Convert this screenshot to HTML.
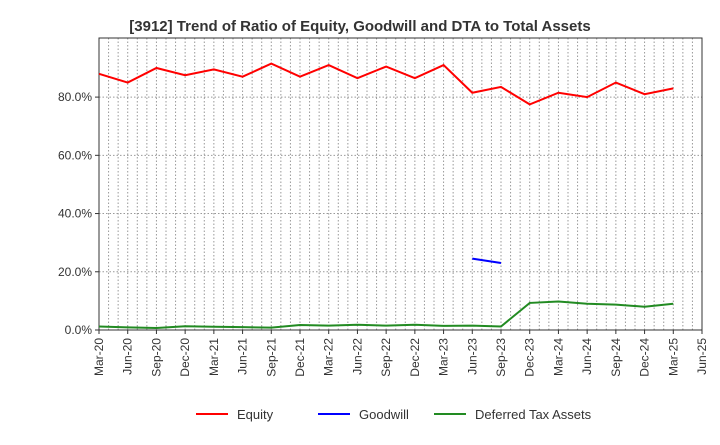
<!DOCTYPE html>
<html><head><meta charset="utf-8"><style>body{margin:0;background:#fff}svg{font-family:"Liberation Sans",sans-serif}</style></head>
<body>
<svg width="720" height="440">
<text x="360" y="31" text-anchor="middle" font-size="15" font-weight="bold" fill="#333">[3912]  Trend of Ratio of Equity, Goodwill and DTA to Total Assets</text>
<g id="grid"></g><g id="axes"></g><g id="series"></g>
<g>
<line x1="196" y1="414" x2="228" y2="414" stroke="#f00" stroke-width="2"/><text x="237" y="419" font-size="13" fill="#333">Equity</text>
<line x1="318" y1="414" x2="350" y2="414" stroke="#00f" stroke-width="2"/><text x="359" y="419" font-size="13" fill="#333">Goodwill</text>
<line x1="434" y1="414" x2="466" y2="414" stroke="#228b22" stroke-width="2"/><text x="475" y="419" font-size="13" fill="#333">Deferred Tax Assets</text>
</g>
</svg>
<script>
const categories=["Mar-20","Jun-20","Sep-20","Dec-20","Mar-21","Jun-21","Sep-21","Dec-21","Mar-22","Jun-22","Sep-22","Dec-22","Mar-23","Jun-23","Sep-23","Dec-23","Mar-24","Jun-24","Sep-24","Dec-24","Mar-25","Jun-25"];
const equity=[88,85,90,87.5,89.5,87,91.5,87,91,86.5,90.5,86.5,91,81.5,83.5,77.5,81.5,80,85,81,83,null];
const goodwill=[null,null,null,null,null,null,null,null,null,null,null,null,null,24.5,23,null,null,null,null,null,null,null];
const dta=[1.2,0.9,0.7,1.3,1.1,1.0,0.8,1.7,1.5,1.8,1.5,1.8,1.4,1.5,1.2,9.3,9.8,9.0,8.7,8.0,9.0,null];
const yTicks=[0,20,40,60,80];
const L=99,R=702,T=38,B=330;
const x=i=>L+i*(R-L)/(categories.length-1);
const y=v=>B-v*(B-T)/100.3;
const ns="http://www.w3.org/2000/svg";
function mk(p,t,a){const e=document.createElementNS(ns,t);for(const k in a)e.setAttribute(k,a[k]);p.appendChild(e);return e;}
const grid=document.getElementById('grid'),axes=document.getElementById('axes'),ser=document.getElementById('series');
for(let m=1;m<(categories.length-1)*3;m++){const xx=L+m*(R-L)/((categories.length-1)*3);
const l=mk(grid,'line',{x1:xx,x2:xx,y1:T,y2:B,stroke:'#999','stroke-dasharray':'1.5,2','stroke-width':1});
}
yTicks.forEach(v=>{if(v>0){const l=mk(grid,'line',{x1:L,x2:R,y1:y(v),y2:y(v),stroke:'#999','stroke-dasharray':'1.5,2'});
}
const t=mk(axes,'text',{x:L-7,y:y(v)+4,'text-anchor':'end','font-size':12,fill:'#333'});t.textContent=v.toFixed(1)+'%';

mk(axes,'line',{x1:L-4,x2:L,y1:y(v),y2:y(v),stroke:'#333'});});
const fr=mk(axes,'rect',{x:L,y:T,width:R-L,height:B-T,fill:'none',stroke:'#333'});

categories.forEach((c,i)=>{mk(axes,'line',{x1:x(i),x2:x(i),y1:B,y2:B+4,stroke:'#333'});
const t=mk(axes,'text',{x:x(i)+4,y:B+8,'text-anchor':'end','font-size':12,fill:'#333',transform:`rotate(-90 ${x(i)+4} ${B+8})`});
t.textContent=c;});
function line(d,col,name){let s='';d.forEach((v,i)=>{if(v==null)return;s+=(s&&d[i-1]!=null?'L':'M')+x(i)+','+y(v);});
const p=mk(ser,'path',{d:s,fill:'none',stroke:col,'stroke-width':2});
}
line(equity,'#f00','equity-line');line(goodwill,'#00f','goodwill-line');line(dta,'#228b22','dta-line');
</script>
</body></html>
